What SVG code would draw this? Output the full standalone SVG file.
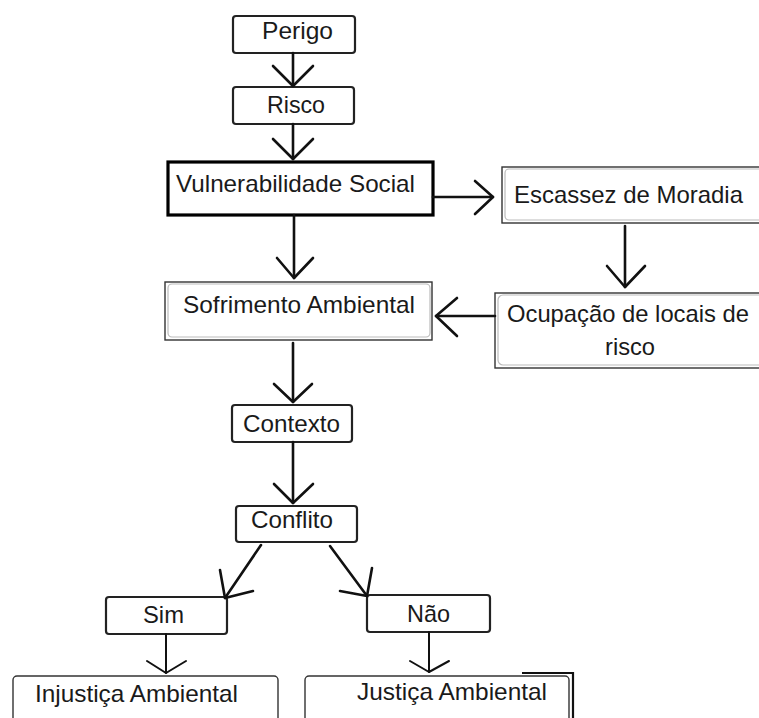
<svg xmlns="http://www.w3.org/2000/svg" width="759" height="718" viewBox="0 0 759 718">
<style>
text{font-family:"Liberation Sans",Arial,sans-serif;font-size:24px;fill:#1a1a1a}
.dark{fill:#fff;stroke:#222;stroke-width:2.2}
.thick{fill:#fff;stroke:#000;stroke-width:3.2}
.lightO{fill:#fff;stroke:#333;stroke-width:1.4}
.lightI{fill:none;stroke:#bbb;stroke-width:1.2}
.c line,.c polyline{fill:none;stroke:#111;stroke-width:2.6;stroke-linecap:round;stroke-linejoin:round}
.c .t{stroke-width:2}
</style>
<rect width="759" height="718" fill="#fff"/>
<g id="perigo"><rect class="dark" x="233" y="16" width="122" height="37" rx="3"/><text x="262" y="39" textLength="71" lengthAdjust="spacingAndGlyphs">Perigo</text></g>
<g id="risco"><rect class="dark" x="233" y="87" width="121" height="37" rx="3"/><text x="267" y="113" textLength="58" lengthAdjust="spacingAndGlyphs">Risco</text></g>
<g id="vulnerabilidade"><rect class="thick" x="168" y="162" width="265" height="53"/><text x="176" y="192" textLength="239" lengthAdjust="spacingAndGlyphs">Vulnerabilidade Social</text></g>
<g id="escassez"><rect class="lightO" x="502" y="167" width="262" height="56"/><rect class="lightI" x="505" y="169" width="262" height="51" rx="4"/><text x="514" y="203" textLength="229" lengthAdjust="spacingAndGlyphs">Escassez de Moradia</text></g>
<g id="sofrimento"><rect class="lightO" x="165" y="282" width="267" height="58"/><rect class="lightI" x="168" y="284" width="262" height="53" rx="4"/><text x="183" y="313" textLength="232" lengthAdjust="spacingAndGlyphs">Sofrimento Ambiental</text></g>
<g id="ocupacao"><rect class="lightO" x="495" y="293" width="270" height="75"/><rect class="lightI" x="498" y="295" width="270" height="70" rx="5"/><text x="507" y="322" textLength="242" lengthAdjust="spacingAndGlyphs">Ocupação de locais de</text><text x="605" y="355" textLength="50" lengthAdjust="spacingAndGlyphs">risco</text></g>
<g id="contexto"><rect class="dark" x="232" y="405" width="120" height="37" rx="3"/><text x="243" y="432" textLength="97" lengthAdjust="spacingAndGlyphs">Contexto</text></g>
<g id="conflito"><rect class="dark" x="236" y="506" width="121" height="36" rx="3"/><text x="251" y="528" textLength="82" lengthAdjust="spacingAndGlyphs">Conflito</text></g>
<g id="sim"><rect class="dark" x="106" y="597" width="121" height="37" rx="3"/><text x="143" y="623" textLength="41" lengthAdjust="spacingAndGlyphs">Sim</text></g>
<g id="nao"><rect class="dark" x="367" y="595" width="123" height="37" rx="3"/><text x="407" y="622" textLength="43" lengthAdjust="spacingAndGlyphs">Não</text></g>
<g id="injustica"><rect class="lightO" x="13" y="676" width="265" height="50" rx="4"/><text x="35" y="702" textLength="203" lengthAdjust="spacingAndGlyphs">Injustiça Ambiental</text></g>
<g id="justica"><rect class="lightO" x="305" y="676" width="264" height="50" rx="4"/><polyline points="522,673 573,673 573,718" fill="none" stroke="#111" stroke-width="2.2"/><text x="357" y="700" textLength="190" lengthAdjust="spacingAndGlyphs">Justiça Ambiental</text></g>
<g id="connectors" class="c">
<line x1="293" y1="53" x2="293" y2="86"/><polyline points="273,66 293,86 313,66"/>
<line x1="293" y1="124" x2="293" y2="159"/><polyline points="273,139 293,159 313,139"/>
<line x1="294" y1="215" x2="294" y2="278"/><polyline points="277,258 294,278 313,258"/>
<line x1="433" y1="197" x2="493" y2="197"/><polyline points="475,181 493,197 475,214"/>
<line x1="625" y1="226" x2="625" y2="287"/><polyline points="607,266 625,287 645,266"/>
<line x1="495" y1="316" x2="436" y2="316"/><polyline points="457,298 436,316 457,336"/>
<line x1="293" y1="343" x2="293" y2="402"/><polyline points="274,384 293,402 312,384"/>
<line x1="293" y1="442" x2="293" y2="503"/><polyline points="274,484 293,503 313,484"/>
<line x1="261" y1="545" x2="225" y2="598"/><polyline points="220,570 225,598 253,591"/>
<line x1="330" y1="546" x2="367" y2="596"/><polyline points="372,568 367,596 340,591"/>
<line class="t" x1="166" y1="634" x2="166" y2="673"/><polyline class="t" points="147,661 166,673 186,661"/>
<line class="t" x1="429" y1="632" x2="429" y2="672"/><polyline class="t" points="410,661 429,672 449,661"/>
</g>
</svg>
